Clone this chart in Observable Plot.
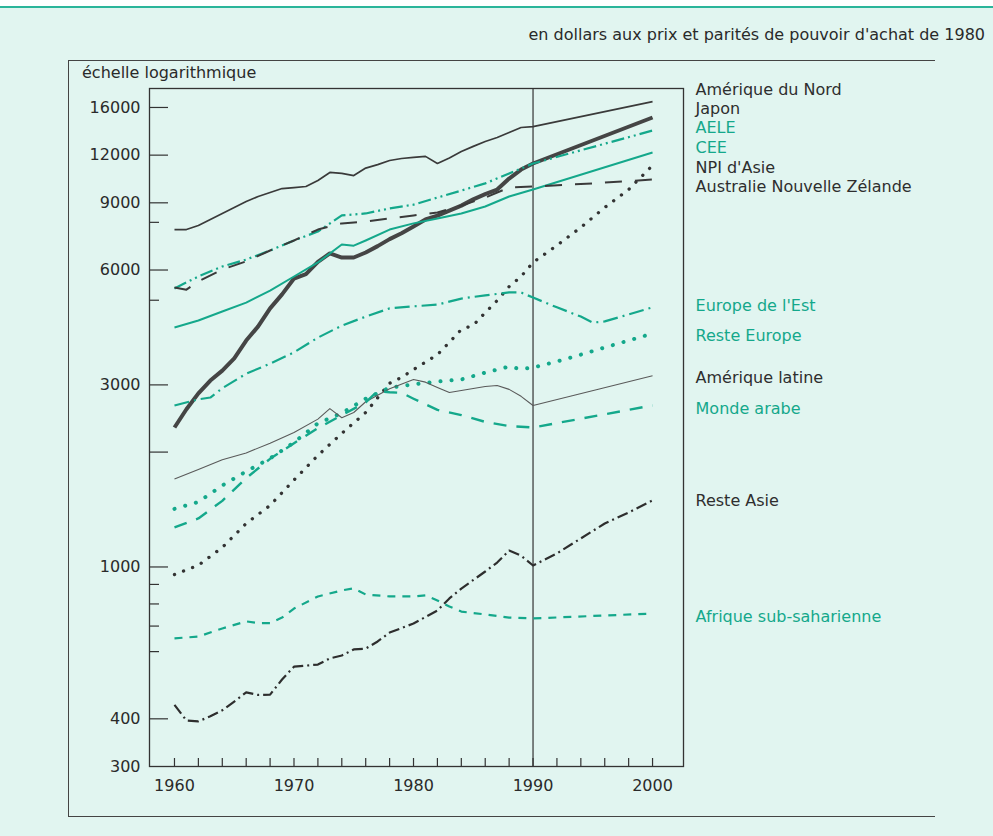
<!DOCTYPE html>
<html><head><meta charset="utf-8">
<script src="https://cdn.jsdelivr.net/npm/d3@7"></script>
<script src="https://cdn.jsdelivr.net/npm/@observablehq/plot@0.6"></script>
<style>
html,body{margin:0;padding:0;background:#e1f5f0;}
#page{position:relative;width:993px;height:836px;overflow:hidden;background:#e1f5f0;font-family:"DejaVu Sans",Arial,sans-serif;color:#2a2a2a;}
#topstrip{position:absolute;left:0;top:0;width:993px;height:6px;background:#fff;}
#toprule{position:absolute;left:0;top:6px;width:993px;height:2px;background:#2bb59a;}
#sub{position:absolute;right:8px;top:26px;font-size:16px;line-height:18px;white-space:nowrap;color:#2a2a2a;}
#ylab{position:absolute;left:82px;top:64px;font-size:16px;line-height:18px;white-space:nowrap;color:#2a2a2a;}
#outer{position:absolute;left:68px;top:60px;width:867px;height:757px;border-left:1.5px solid #444;border-top:1.5px solid #444;border-bottom:1.5px solid #444;box-sizing:border-box;}
#chart{position:absolute;left:0;top:0;}
</style></head>
<body><div id="page"><div id="topstrip"></div><div id="toprule"></div><div id="outer"></div>
<div id="sub">en dollars aux prix et parités de pouvoir d'achat de 1980</div>
<div id="ylab">échelle logarithmique</div>
<div id="chart"></div></div>
<script>
// ---- data: [year, PIB par habitant] ----
const ameriqueDuNord = [[1960,7660],[1961,7660],[1962,7850],[1963,8140],[1964,8440],[1965,8750],[1966,9070],[1967,9350],[1968,9580],[1969,9810],[1970,9870],[1971,9930],[1972,10300],[1973,10810],[1974,10750],[1975,10610],[1976,11100],[1977,11330],[1978,11620],[1979,11760],[1980,11840],[1981,11910],[1982,11410],[1983,11800],[1984,12260],[1985,12650],[1986,13030],[1987,13350],[1988,13750],[1989,14180],[1990,14260],[2000,16580]];
const japon = [[1960,2320],[1961,2590],[1962,2850],[1963,3080],[1964,3270],[1965,3520],[1966,3920],[1967,4270],[1968,4760],[1969,5180],[1970,5700],[1971,5850],[1972,6300],[1973,6630],[1974,6470],[1975,6470],[1976,6670],[1977,6930],[1978,7230],[1979,7490],[1980,7800],[1981,8140],[1982,8330],[1983,8590],[1984,8850],[1985,9190],[1986,9480],[1987,9750],[1988,10420],[1989,11000],[1990,11410],[2000,15060]];
const aele = [[1960,5370],[1962,5770],[1964,6130],[1966,6390],[1968,6750],[1970,7170],[1972,7570],[1974,8340],[1976,8440],[1978,8700],[1980,8900],[1982,9290],[1984,9690],[1986,10120],[1988,10740],[1990,11410],[2000,13920]];
const cee = [[1960,4240],[1962,4425],[1964,4670],[1966,4930],[1968,5300],[1970,5770],[1972,6280],[1974,7000],[1975,6950],[1976,7170],[1978,7660],[1980,7950],[1982,8190],[1984,8440],[1986,8800],[1988,9350],[1990,9750],[2000,12190]];
const npiAsie = [[1960,955],[1962,1010],[1964,1125],[1966,1300],[1968,1450],[1970,1690],[1972,1960],[1974,2240],[1976,2540],[1978,3030],[1979,3140],[1980,3290],[1982,3600],[1983,3880],[1984,4190],[1985,4300],[1986,4640],[1987,4990],[1988,5430],[1989,5770],[1990,6280],[1992,6960],[1994,7760],[1996,8750],[1998,9750],[2000,11280]];
const australieNZ = [[1960,5400],[1961,5330],[1962,5600],[1964,6020],[1966,6320],[1968,6750],[1970,7170],[1972,7660],[1974,7950],[1976,8040],[1978,8190],[1980,8340],[1982,8490],[1984,8850],[1986,9290],[1988,9870],[1990,9930],[1995,10120],[2000,10360]];
const europeEst = [[1960,2650],[1962,2750],[1963,2780],[1964,2940],[1966,3210],[1968,3410],[1970,3650],[1972,3990],[1974,4290],[1976,4530],[1978,4760],[1980,4820],[1982,4870],[1984,5050],[1986,5150],[1988,5240],[1989,5240],[1990,5080],[1992,4790],[1994,4530],[1995,4370],[1996,4400],[1998,4590],[2000,4790]];
const resteEurope = [[1960,1420],[1962,1480],[1964,1635],[1966,1780],[1968,1925],[1970,2120],[1972,2380],[1974,2530],[1976,2760],[1978,2950],[1980,3010],[1982,3060],[1984,3100],[1986,3230],[1988,3350],[1989,3300],[1990,3330],[1992,3455],[1994,3600],[1996,3760],[1998,3920],[2000,4090]];
const ameriqueLatine = [[1960,1700],[1962,1800],[1964,1910],[1966,1990],[1968,2110],[1970,2250],[1972,2440],[1973,2600],[1974,2460],[1975,2540],[1976,2710],[1978,2930],[1980,3100],[1981,3050],[1982,2955],[1983,2865],[1984,2900],[1986,2970],[1987,2990],[1988,2920],[1989,2800],[1990,2650],[2000,3170]];
const mondeArabe = [[1960,1270],[1962,1340],[1964,1490],[1966,1710],[1968,1920],[1970,2110],[1972,2310],[1974,2500],[1976,2700],[1977,2890],[1978,2870],[1979,2860],[1980,2760],[1982,2580],[1984,2500],[1986,2400],[1988,2340],[1990,2320],[2000,2650]];
const resteAsie = [[1960,435],[1961,396],[1962,394],[1963,406],[1964,421],[1965,444],[1966,469],[1967,462],[1968,463],[1969,507],[1970,548],[1972,555],[1973,576],[1974,586],[1975,608],[1976,611],[1977,638],[1978,673],[1980,711],[1982,769],[1983,827],[1984,878],[1986,973],[1987,1027],[1988,1104],[1989,1071],[1990,1009],[1992,1085],[1994,1188],[1996,1300],[1998,1389],[2000,1494]];
const afriqueSubSah = [[1960,650],[1962,657],[1964,690],[1966,720],[1967,713],[1968,713],[1969,737],[1970,778],[1972,837],[1974,868],[1975,879],[1976,847],[1978,837],[1980,837],[1981,843],[1982,817],[1983,788],[1984,764],[1986,751],[1988,737],[1990,733],[2000,755]];

const seriesNames = ["Amérique du Nord","Japon","AELE","CEE","NPI d'Asie","Australie Nouvelle Zélande","Europe de l'Est","Reste Europe","Amérique latine","Monde arabe","Reste Asie","Afrique sub-saharienne"];
const seriesData = [ameriqueDuNord, japon, aele, cee, npiAsie, australieNZ, europeEst, resteEurope, ameriqueLatine, mondeArabe, resteAsie, afriqueSubSah];

const yTickLabels = [300, 400, 1000, 3000, 6000, 9000, 12000, 16000];
const yTicksLong = [400, 1000, 2000, 3000, 6000, 9000, 12000, 16000];
const yTicksShort = [600, 700, 800, 900, 5000, 8000];
const xTickLabels = [1960, 1970, 1980, 1990, 2000];
const xTicks = d3.range(1960, 2001, 2);

// ---- styles ----
const TEAL = "#14a88b", DARK = "#2e2e2e";
const styles = {
  "Amérique du Nord": {stroke: "#3a3a3a", strokeWidth: 1.7, label: DARK, dy: -12},
  "Japon": {stroke: "#454545", strokeWidth: 4, label: DARK, dy: -9},
  "AELE": {stroke: TEAL, strokeWidth: 2.2, dash: "13,4,2,4,2,4", label: TEAL, dy: -3},
  "CEE": {stroke: TEAL, strokeWidth: 2, label: TEAL, dy: -5},
  "NPI d'Asie": {stroke: "#333", strokeWidth: 3.3, dash: "0.1,9.6", cap: "round", label: DARK, dy: 2},
  "Australie Nouvelle Zélande": {stroke: "#3a3a3a", strokeWidth: 2, dash: "17,13", label: DARK, dy: 7},
  "Europe de l'Est": {stroke: TEAL, strokeWidth: 2.2, dash: "15,5,2,5", label: TEAL, dy: -1},
  "Reste Europe": {stroke: TEAL, strokeWidth: 4, dash: "0.1,11", cap: "round", label: TEAL, dy: 2},
  "Amérique latine": {stroke: "#5a5a5a", strokeWidth: 1.1, label: DARK, dy: 2},
  "Monde arabe": {stroke: TEAL, strokeWidth: 2.4, dash: "13,10", label: TEAL, dy: 3},
  "Reste Asie": {stroke: "#2e2e2e", strokeWidth: 2.2, dash: "11,4,2,4", label: DARK, dy: 0},
  "Afrique sub-saharienne": {stroke: TEAL, strokeWidth: 2.2, dash: "8,7", label: TEAL, dy: 3}
};

const W = 993, H = 836, mL = 149, mR = 310, mT = 88, mB = 70;
const frameW = W - mL - mR, frameH = H - mT - mB;

const marks = [];
seriesNames.forEach((name, i) => {
  const s = styles[name];
  marks.push(Plot.line(seriesData[i], {
    x: d => d[0], y: d => d[1],
    stroke: s.stroke, strokeWidth: s.strokeWidth,
    strokeDasharray: s.dash, strokeLinecap: s.cap || "butt", strokeLinejoin: "round"
  }));
});
seriesNames.forEach((name, i) => {
  const s = styles[name];
  const last = seriesData[i][seriesData[i].length - 1];
  marks.push(Plot.text([last], {
    x: d => d[0], y: d => d[1], text: () => name,
    dx: 43, dy: s.dy, textAnchor: "start", fill: s.label, fontSize: 16
  }));
});

const chart = Plot.plot({
  width: W, height: H,
  marginLeft: mL, marginRight: mR, marginTop: mT, marginBottom: mB,
  style: {background: "transparent", fontFamily: "'DejaVu Sans', Arial, sans-serif", color: "#2a2a2a"},
  x: {domain: [1957.91, 2002.59]},
  y: {type: "log", domain: [300, 17940]},
  marks: [
    Plot.frame({stroke: "#333", strokeWidth: 1.3}),
    Plot.ruleX([1990], {stroke: "#333", strokeWidth: 1.2}),
    Plot.tickY(yTicksLong, {y: d => d, stroke: "#333", strokeWidth: 1.2, insetRight: frameW - 19}),
    Plot.tickY(yTicksShort, {y: d => d, stroke: "#333", strokeWidth: 1.2, insetRight: frameW - 10}),
    Plot.tickX(xTicks, {x: d => d, stroke: "#333", strokeWidth: 1.2, insetTop: frameH - 8}),
    Plot.axisY(yTickLabels, {anchor: "left", tickSize: 0, tickPadding: 9, fontSize: 16, fill: "#2a2a2a", tickFormat: d => String(d)}),
    Plot.axisX(xTickLabels, {anchor: "bottom", tickSize: 0, tickPadding: 13, fontSize: 16, fill: "#2a2a2a", tickFormat: d => String(d)}),
    ...marks
  ]
});
document.getElementById("chart").appendChild(chart);
</script></body></html>
